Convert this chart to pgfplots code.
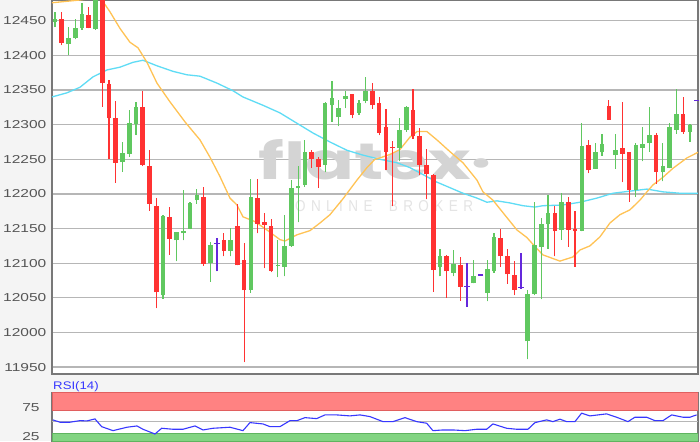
\documentclass[border=0pt]{standalone}
\usepackage{fontspec}
\setmainfont{Liberation Sans}
\newfontfamily\logofont{Poppins}
\usepackage{graphicx}
\usepackage{pgfplots}
\usepackage{pgfplotstable}
\pgfplotsset{compat=1.18}

\definecolor{upc}{RGB}{96,200,96}
\definecolor{dnc}{RGB}{255,50,50}
\definecolor{dojic}{RGB}{100,40,220}
\definecolor{maone}{RGB}{255,195,85}
\definecolor{matwo}{RGB}{95,220,245}
\definecolor{gridc}{RGB}{182,182,182}
\definecolor{tickc}{RGB}{85,85,85}
\definecolor{bgc}{RGB}{244,244,244}
\definecolor{framec}{RGB}{120,120,120}
\definecolor{rsic}{RGB}{55,55,255}
\definecolor{obc}{RGB}{255,130,130}
\definecolor{obedge}{RGB}{225,95,95}
\definecolor{osc}{RGB}{130,212,130}
\definecolor{osedge}{RGB}{95,180,95}
\definecolor{wmc}{RGB}{212,212,212}
\definecolor{wmc2}{RGB}{228,228,228}

\pgfplotsset{
 candlebar/.style 2 args={only marks, mark=*, mark size=0pt,
  mark options={draw=none, fill=none}, forget plot,
  error bars/.cd, y dir=plus, y explicit, error mark=none,
  error bar style={#1, line width=#2}},
}

% candles: index, open, high, low, close
\pgfplotstableread{
x o h l c
0 12448 12463 12441 12452
2 12416 12441 12400 12425
3 12425 12453 12423 12440
4 12440 12476 12437 12460
6 12438 12500 12437 12492
10 12246 12275 12232 12259
11 12258 12321 12254 12302
12 12301 12333 12285 12325
16 12054 12170 12049 12168
18 12133 12145 12103 12145
19 12143 12205 12133 12146
20 12150 12189 12149 12187
21 12191 12207 12186 12198
23 12100 12131 12073 12126
26 12118 12151 12110 12134
29 12061 12222 12057 12195
33 12096 12134 12080 12098
34 12095 12170 12081 12125
35 12125 12220 12124 12209
36 12208 12241 12159 12212
37 12213 12278 12210 12260
40 12242 12333 12231 12331
41 12328 12363 12304 12339
42 12311 12336 12298 12324
43 12337 12349 12324 12342
45 12317 12336 12314 12332
46 12334 12369 12331 12348
51 12267 12309 12247 12293
52 12292 12327 12290 12325
57 12094 12120 12081 12110
59 12086 12119 12081 12099
62 12071 12105 12071 12082
64 12057 12105 12045 12091
65 12088 12143 12086 12138
70 11987 12061 11961 12056
71 12056 12189 12054 12126
72 12124 12165 12048 12157
73 12157 12198 12121 12173
75 12148 12202 12134 12188
78 12147 12302 12146 12269
80 12236 12274 12236 12260
81 12260 12286 12255 12272
83 12256 12286 12236 12263
86 12206 12274 12196 12271
87 12267 12297 12247 12272
88 12273 12325 12261 12285
90 12231 12274 12218 12240
91 12238 12303 12237 12296
92 12293 12351 12287 12315
94 12290 12301 12275 12299
}\upcandles

\pgfplotstableread{
x o h l c
1 12452 12463 12415 12418
5 12459 12470 12439 12440
7 12492 12500 12326 12360
8 12358 12364 12251 12309
9 12310 12334 12216 12245
13 12325 12349 12240 12242
14 12241 12263 12176 12186
15 12183 12194 12035 12058
17 12166 12181 12112 12135
22 12196 12210 12096 12099
25 12134 12144 12110 12118
27 12154 12185 12097 12097
28 12104 12129 11957 12061
30 12194 12222 12143 12157
31 12160 12172 12093 12155
32 12154 12164 12087 12089
38 12260 12264 12238 12250
39 12250 12254 12209 12239
44 12344 12345 12309 12314
47 12348 12360 12323 12328
48 12332 12340 12285 12288
49 12297 12323 12234 12261
50 12268 12277 12182 12266
53 12321 12351 12280 12283
54 12283 12295 12227 12242
55 12242 12265 12192 12229
56 12227 12229 12059 12090
58 12110 12112 12050 12088
60 12098 12109 12046 12066
66 12137 12150 12095 12110
67 12110 12121 12070 12084
68 12083 12103 12054 12062
74 12173 12182 12110 12146
76 12188 12196 12124 12148
77 12150 12175 12095 12146
79 12271 12278 12230 12234
82 12327 12336 12307 12307
84 12267 12333 12217 12258
85 12261 12261 12189 12206
89 12285 12288 12215 12232
93 12315 12340 12287 12290
}\dncandles

\pgfplotstableread{
x o h l c
24 12128 12136 12088 12128
61 12066 12100 12037 12066
63 12083 12083 12083 12083
69 12065 12114 12063 12065
95 12335 12335 12335 12335
}\dojicandles

\begin{document}
\begin{tikzpicture}
\path[use as bounding box, fill=bgc] (0,0) rectangle (700pt,441pt);

\begin{axis}[
 scale only axis, width=646pt, height=374pt,
 at={(52pt,67pt)}, anchor=south west,
 xmin=-0.44, xmax=95.2, ymin=11940, ymax=12480,
 xtick=\empty, ytick={11950,12000,...,12450},
 scaled y ticks=false,
 /pgf/number format/.cd, 1000 sep={}, assume math mode=true, /pgfplots/.cd,
 ymajorgrids, grid style={gridc, line width=1.3pt},
 major tick length=0pt,
 axis line style={framec, line width=1.3pt},
 axis background/.style={fill=white},
 yticklabel style={font=\fontsize{11.5}{12}\selectfont, text=tickc, xscale=1.35, inner sep=1pt, xshift=-3pt},
]
\node[anchor=base west, inner sep=0, text=wmc] at (rel axis cs:0.319,0.519)
 {\resizebox{234pt}{40pt}{\logofont\bfseries flatex·}};
\node[anchor=base west, inner sep=0, text=wmc2] at (rel axis cs:0.376,0.434)
 {\resizebox{178pt}{11pt}{O\hspace{0.4em}N\hspace{0.4em}L\hspace{0.4em}I\hspace{0.4em}N\hspace{0.4em}E\hspace{1.2em}B\hspace{0.4em}R\hspace{0.4em}O\hspace{0.4em}K\hspace{0.4em}E\hspace{0.4em}R}};

% moving averages
\addplot[matwo, line width=1.3pt] coordinates {
 (-0.44,12340) (1.78,12346) (3.70,12354) (5.63,12369) (7.70,12379) (9.62,12383)
 (11.55,12390) (13.03,12393) (15.10,12385) (17.47,12377) (19.54,12372) (21.47,12370)
 (23.98,12360) (26.35,12349) (27.83,12340) (30.79,12328) (33.31,12317) (35.83,12302)
 (38.19,12288) (40.71,12275) (43.23,12263) (45.60,12256) (48.11,12250) (50.63,12245)
 (52.55,12238) (54.48,12228) (56.55,12217) (58.48,12209) (60.40,12201) (62.47,12194)
 (63.95,12188) (65.43,12190) (67.36,12187) (69.28,12183) (71.06,12181) (72.24,12183)
 (75.20,12184) (77.72,12188) (80.24,12194) (82.61,12201) (85.12,12204) (87.64,12207)
 (90.01,12203) (92.53,12201) (95.19,12201)};
\addplot[maone, line width=1.3pt] coordinates {
 (-0.44,12476) (3.70,12480) (6.66,12484) (8.14,12463) (9.62,12439) (11.10,12419)
 (12.29,12411) (13.62,12390) (15.10,12360) (17.02,12333) (19.25,12304) (21.47,12278)
 (22.95,12253) (24.43,12225) (25.91,12194) (26.94,12184) (27.83,12167) (29.61,12160)
 (31.38,12148) (33.31,12134) (34.05,12132) (35.83,12141) (37.75,12147) (39.23,12158)
 (40.71,12170) (42.64,12193) (44.71,12220) (46.19,12238) (47.37,12250) (48.11,12252)
 (49.59,12257) (51.07,12264) (52.55,12282) (53.59,12290) (55.07,12290) (56.55,12278)
 (58.48,12261) (60.40,12245) (62.47,12220) (63.36,12203) (64.84,12191) (66.32,12173)
 (68.39,12148) (69.87,12137) (71.06,12124) (72.24,12112) (74.76,12103) (76.68,12109)
 (77.72,12119) (79.20,12125) (80.68,12138) (82.16,12158) (83.64,12170) (85.12,12177)
 (86.60,12191) (87.64,12203) (88.53,12213) (90.01,12224) (91.49,12237) (93.56,12252)
 (95.19,12260)};

% wicks
\addplot[candlebar={upc}{1.2pt}]
 table[x=x, y=l, y error plus expr=\thisrow{h}-\thisrow{l}] {\upcandles};
\addplot[candlebar={dnc}{1.2pt}]
 table[x=x, y=l, y error plus expr=\thisrow{h}-\thisrow{l}] {\dncandles};
\addplot[candlebar={dojic}{1.2pt}]
 table[x=x, y=l, y error plus expr=\thisrow{h}-\thisrow{l}] {\dojicandles};
% bodies
\addplot[candlebar={upc}{4.6pt}]
 table[x=x, y=o, y error plus expr=\thisrow{c}-\thisrow{o}] {\upcandles};
\addplot[candlebar={dnc}{4.6pt}]
 table[x=x, y=c, y error plus expr=\thisrow{o}-\thisrow{c}] {\dncandles};
\addplot[dojic, only marks, mark=-, mark size=2.8pt, mark options={line width=1.2pt}, forget plot]
 table[x=x, y=o] {\dojicandles};
\end{axis}

\begin{axis}[
 scale only axis, width=646pt, height=48.3pt,
 at={(52pt,0pt)}, anchor=south west,
 xmin=-0.44, xmax=95.2, ymin=16.5, ymax=100,
 xtick=\empty, ytick={25,75},
 major tick length=0pt,
 axis line style={framec, line width=1.3pt},
 axis background/.style={fill=white},
 /pgf/number format/assume math mode=true,
 yticklabel style={font=\fontsize{11.5}{12}\selectfont, text=tickc, xscale=1.35, inner sep=1pt, xshift=-8pt},
]
\addplot[fill=obc, draw=obedge, line width=1pt] coordinates {(-0.44,70) (95.2,70) (95.2,100) (-0.44,100)} -- cycle;
\addplot[fill=osc, draw=osedge, line width=1pt] coordinates {(-0.44,16.5) (95.2,16.5) (95.2,30) (-0.44,30)} -- cycle;
\addplot[gridc, line width=1.3pt] coordinates {(-0.44,50) (95.2,50)};
\addplot[rsic, line width=1.1pt] coordinates {
 (-0.3,52.9) (0.74,49.0) (2.22,49.0) (3.70,51.7) (4.74,51.2) (5.92,54.7) (6.91,41.3)
 (8.59,34.4) (10.66,40.3) (12.14,42.5) (13.03,36.8) (14.80,28.6) (15.80,38.5) (17.47,36.8)
 (18.95,36.8) (20.73,42.5) (21.91,35.6) (23.39,38.5) (25.91,40.3) (27.83,34.4) (28.87,48.3)
 (30.79,46.0) (31.83,41.3) (33.31,41.3) (34.79,51.7) (35.83,51.7) (37.01,56.9) (38.74,55.2)
 (39.97,61.6) (41.70,61.6) (43.67,59.9) (45.15,61.6) (46.63,58.7) (48.56,50.0) (50.04,50.0)
 (51.81,56.9) (53.55,50.0) (55.03,47.2) (55.96,34.4) (57.44,35.6) (58.92,35.6) (60.70,34.4)
 (62.43,36.8) (63.91,36.8) (64.84,46.0) (66.87,38.5) (68.35,36.8) (70.02,36.8) (71.06,48.3)
 (72.79,53.0) (73.72,50.0) (74.76,54.2) (75.75,50.0) (76.98,50.0) (77.97,64.6) (79.20,59.9)
 (81.67,63.4) (83.15,57.6) (84.83,50.0) (85.86,57.6) (87.60,57.6) (88.82,51.7) (90.01,51.7)
 (91.30,61.6) (92.97,57.6) (94.00,57.6) (94.99,61.6)};
\end{axis}

\node[anchor=base west, inner sep=0, text=rsic, font=\fontsize{11}{12}\selectfont, xscale=1.2]
 at (53pt,51pt) {RSI(14)};
\end{tikzpicture}
\end{document}
